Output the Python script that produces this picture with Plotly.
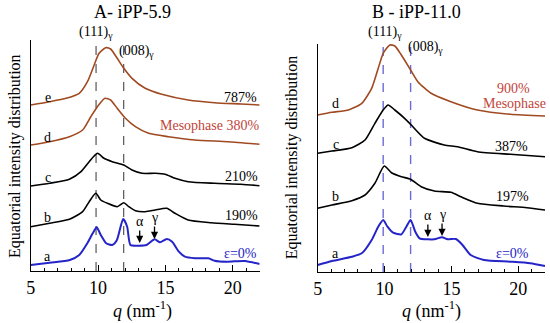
import plotly.graph_objects as go

# ---------------- data ----------------
# Panel A (iPP-5.9)
qA_a = [5, 6.4, 7.9, 8.6, 9.2, 9.6, 9.9, 10.2, 10.6, 11.05, 11.4, 11.86, 12.16, 12.4, 13.0, 13.6, 14.2, 14.6, 15.1, 15.5, 16.0, 16.45, 17.2, 18.2, 18.65, 19.6, 20.9, 22]
iA_a = [6, 8.3, 11, 16, 27.7, 37.7, 43.7, 36, 27.7, 26, 31, 52, 44.3, 26, 25.3, 26, 31.7, 28.7, 32, 29.3, 19.3, 14.3, 12.7, 12.7, 10.3, 9.3, 10, 7]
qA_b = [5, 6.4, 7.87, 8.85, 9.34, 9.83, 10.2, 10.69, 11.42, 11.91, 12.28, 12.77, 13.5, 14.24, 15.1, 15.71, 16.69, 18.4, 20.12, 22]
iA_b = [44.3, 47.7, 51.7, 59.3, 69.3, 77.7, 71, 67.7, 64.3, 68.3, 64.3, 60.3, 59.3, 61, 62.7, 57.7, 51, 48.3, 46.7, 45]
qA_c = [5, 6.4, 7.87, 8.73, 9.34, 9.95, 10.44, 11.05, 11.91, 12.52, 13.26, 14.24, 14.98, 15.71, 16.69, 18.65, 20.61, 22]
iA_c = [85, 87.7, 91.7, 99.3, 109.3, 117.7, 112.7, 109.3, 106, 101, 97.7, 97.7, 96.7, 92.7, 89.3, 87.7, 86.7, 85.3]
qA_d = [5, 6.4, 7.87, 8.85, 9.46, 9.95, 10.51, 10.93, 11.42, 12.03, 12.77, 13.75, 15.22, 17.18, 19.63, 22]
iA_d = [126, 129.3, 134.3, 141, 154.3, 164.3, 172.7, 171, 162.7, 152.7, 144.3, 137.7, 134.3, 131, 129.3, 126.7]
qA_e = [5, 6.4, 7.62, 8.6, 9.21, 9.71, 10.07, 10.56, 10.93, 11.42, 11.91, 12.52, 13.5, 14.73, 16.69, 18.65, 20.61, 22]
iA_e = [166, 169.3, 172.7, 177.7, 189.3, 206, 217.7, 223.3, 222, 212.7, 202.7, 192.7, 182.7, 176.7, 171, 168.3, 167, 166]

# Panel B (iPP-11.0)
qB_a = [5, 6.07, 7.56, 8.3, 9.04, 9.53, 9.9, 10.22, 10.64, 11.26, 11.63, 11.95, 12.3, 12.62, 13.24, 13.73, 14.3, 14.72, 15.33, 15.83, 16.44, 17.43, 19.41, 20.89, 22]
iB_a = [7, 11, 15.3, 18.7, 32, 45.3, 52, 45.3, 39.3, 37.7, 45.3, 52, 40.3, 33.7, 32.7, 32.7, 34.7, 32.7, 33, 27, 17, 12, 10.3, 8.7, 6]
qB_b = [5, 6.07, 7.56, 8.54, 9.28, 9.98, 10.52, 11.26, 11.95, 12.74, 13.73, 14.96, 15.7, 16.94, 18.91, 20.64, 22]
iB_b = [63.7, 67, 71.3, 77, 88.7, 106, 99.3, 95.3, 92.7, 85.3, 81, 79.7, 75.3, 68.7, 66, 64.3, 62]
qB_c = [5, 6.07, 7.56, 8.54, 9.28, 9.9, 10.27, 10.77, 11.5, 12.0, 12.99, 14.47, 15.46, 16.94, 19.41, 22]
iB_c = [118.7, 121, 124.3, 132, 148.7, 162, 167, 162, 153.7, 147, 133.7, 127, 125.3, 120.3, 117.7, 115.3]
qB_d = [5, 6.07, 7.31, 8.3, 9.04, 9.53, 9.9, 10.4, 10.77, 11.26, 11.95, 12.49, 13.48, 14.96, 16.94, 19.41, 22]
iB_d = [157, 159.7, 162, 168.7, 183.7, 203.7, 218.7, 227, 226, 217, 202, 190.3, 178.7, 170.3, 162, 157.7, 156]

dashA = [9.85, 11.9]
dashB = [9.9, 11.95]
arrowsA = [("α", 13.09, 28), ("γ", 14.19, 32)]
arrowsB = [("α", 13.24, 35), ("γ", 14.3, 36)]

x_ticks = [5, 10, 15, 20]

# ---------------- figure ----------------
W, H = 550, 323
FONT = "Liberation Serif"
BROWN = "#a04a22"
BLUE = "#2424c8"
RED = "#c0443a"

def px(x, y):
    return x / W, 1 - y / H

fig = go.Figure()

def add_curve(q, i, color, xa, ya, width=1.6):
    fig.add_trace(go.Scatter(x=q, y=i, mode="lines", line=dict(color=color, width=width, shape="spline", smoothing=0.6),
                             xaxis=xa, yaxis=ya, showlegend=False, hoverinfo="skip"))

add_curve(qA_a, iA_a, BLUE, "x", "y", 2)
add_curve(qA_b, iA_b, "black", "x", "y")
add_curve(qA_c, iA_c, "black", "x", "y")
add_curve(qA_d, iA_d, BROWN, "x", "y")
add_curve(qA_e, iA_e, BROWN, "x", "y")
add_curve(qB_a, iB_a, BLUE, "x2", "y2", 2)
add_curve(qB_b, iB_b, "black", "x2", "y2")
add_curve(qB_c, iB_c, "black", "x2", "y2")
add_curve(qB_d, iB_d, BROWN, "x2", "y2")

for q in dashA:
    fig.add_shape(type="line", x0=q, x1=q, y0=0, y1=1, xref="x", yref="y domain",
                  line=dict(color="#555555", width=1.2, dash="dash"), layer="below")
for q in dashB:
    fig.add_shape(type="line", x0=q, x1=q, y0=0, y1=1, xref="x2", yref="y2 domain",
                  line=dict(color="#6a6ad8", width=1.4, dash="dash"), layer="below")

axis_x = dict(range=[5, 22], showline=True, linecolor="black", linewidth=1, ticks="inside", ticklen=6,
              tickcolor="black", tickvals=x_ticks, showgrid=False, zeroline=False,
              minor=dict(dtick=1, tick0=5, ticks="inside", ticklen=3, tickcolor="black", showgrid=False),
              tickfont=dict(family=FONT, size=18, color="black"), fixedrange=True)
axis_y = dict(showline=True, linecolor="black", linewidth=1, ticks="", showticklabels=False,
              showgrid=False, zeroline=False, fixedrange=True)

x0, yy0 = px(26, 271)
x1, yy1 = px(257, 40)
x2, yb0 = px(315.5, 272)
x3, yb1 = px(545, 44)

fig.update_layout(
    width=W, height=H, margin=dict(l=0, r=0, t=0, b=0),
    paper_bgcolor="white", plot_bgcolor="white",
    xaxis=dict(axis_x, domain=[x0, x1], anchor="y"),
    yaxis=dict(axis_y, domain=[yy0, yy1], range=[0, 231], anchor="x"),
    xaxis2=dict(axis_x, domain=[x2, x3], anchor="y2"),
    yaxis2=dict(axis_y, domain=[yb0, yb1], range=[0, 228], anchor="x2"),
    font=dict(family=FONT, color="black"),
)

ann = []
def text(x, y, t, size=14, color="black", **kw):
    xp, yp = px(x, y)
    ann.append(dict(x=xp, y=yp, xref="paper", yref="paper", text=t, showarrow=False,
                    font=dict(family=FONT, size=size, color=color), xanchor="center", yanchor="middle", **kw))

# titles
text(129, 12, "A- iPP-5.9", 18)
text(415, 12, "B - iPP-11.0", 18)
# y-axis titles
text(10, 156, "Equatorial intensity distribution", 16, textangle=-90)
text(290, 157, "Equatorial intensity distribution", 16, textangle=-90)
# x-axis titles
text(139, 310, "<i>q</i> (nm<sup>-1</sup>)", 18)
text(430, 310, "<i>q</i> (nm<sup>-1</sup>)", 18)
# reflections
text(92, 33, "(111)<sub>γ</sub>", 14)
text(133, 52, "(008)<sub>γ</sub>", 14)
text(383, 32, "(111)<sub>γ</sub>", 14)
text(424, 48, "(008)<sub>γ</sub>", 14)
# curve letters
for lab, y in [("e", 98), ("d", 137), ("c", 177), ("b", 217), ("a", 256)]:
    text(43, y, lab, 14)
for lab, y in [("d", 103), ("c", 144), ("b", 196), ("a", 253)]:
    text(334, y, lab, 14)
# strain labels panel A
text(238, 97, "787%", 14)
text(206, 125, "Mesophase 380%", 14, RED)
text(239, 176, "210%", 14)
text(239, 216, "190%", 14)
text(238, 253, "ε=0%", 14, BLUE)
# strain labels panel B
text(513, 88, "900%", 14, RED)
text(514, 104, "Mesophase", 14, RED)
text(511, 146, "387%", 14)
text(512, 196, "197%", 14)
text(512, 253, "ε=0%", 14, BLUE)

for (lab, q, v), xa, ya in [(a, "x", "y") for a in arrowsA] + [(a, "x2", "y2") for a in arrowsB]:
    ann.append(dict(x=q, y=v, xref=xa, yref=ya, text="", showarrow=True, arrowhead=2, arrowsize=1.1,
                    arrowwidth=1.3, arrowcolor="black", ax=0, ay=-14, axref="pixel", ayref="pixel"))
    ann.append(dict(x=q, y=v, xref=xa, yref=ya, text=lab, showarrow=False, yshift=22,
                    font=dict(family=FONT, size=14, color="black"), xanchor="center", yanchor="middle"))

fig.update_layout(annotations=ann)
fig.write_html("out.html", config={"displayModeBar": False},
               post_script="document.body.style.margin='0';document.body.style.overflow='hidden';")
